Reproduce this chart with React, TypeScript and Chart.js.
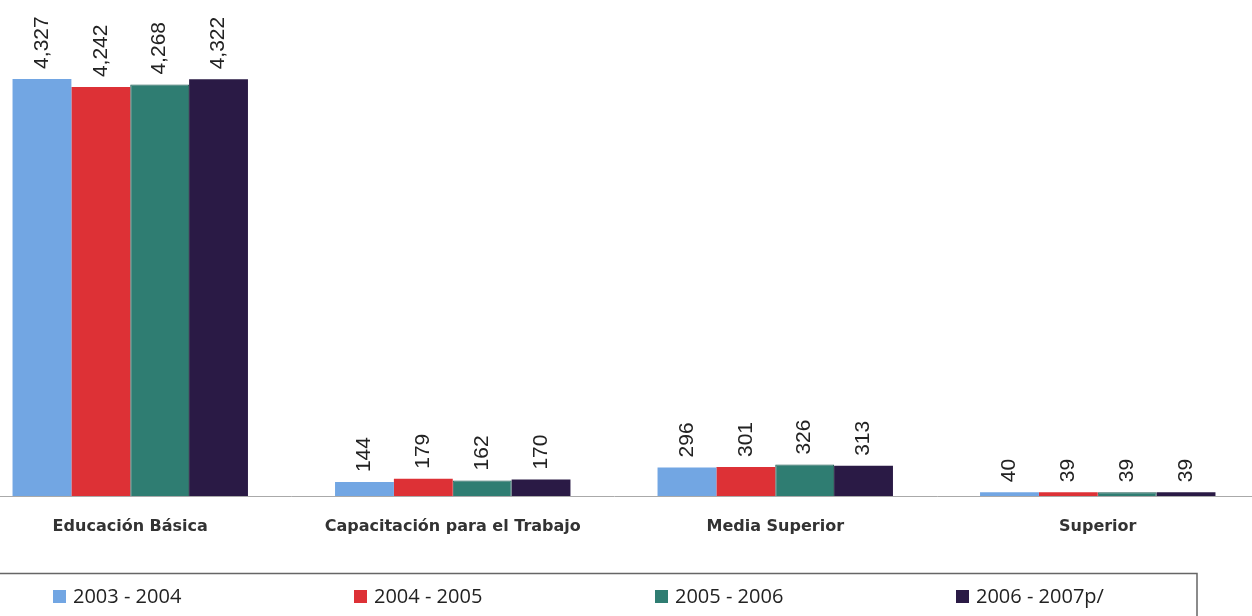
import React, { useEffect, useRef } from "react";
import { Chart, registerables } from "chart.js";

Chart.register(...registerables);

const categories = ["Educación Básica", "Capacitación para el Trabajo", "Media Superior", "Superior"];
const seriesLabels = ["2003 - 2004", "2004 - 2005", "2005 - 2006", "2006 - 2007p/"];
const s2003 = [4327, 144, 296, 40];
const s2004 = [4242, 179, 301, 39];
const s2005 = [4268, 162, 326, 39];
const s2006 = [4322, 170, 313, 39];
const seriesColors = ["#72a6e3", "#dd3136", "#2f7d72", "#2a1a45"];
const yMax = 5000;

const OFFSET_X = 40; // canvas shifted left by this many px

const valueLabels = {
  id: "valueLabels",
  afterDatasetsDraw(chart: any) {
    const ctx = chart.ctx;
    ctx.save();
    ctx.font = '21px "Liberation Sans", Arial, sans-serif';
    ctx.fillStyle = "#222";
    ctx.textAlign = "left";
    ctx.textBaseline = "middle";
    chart.data.datasets.forEach((ds: any, i: number) => {
      const meta = chart.getDatasetMeta(i);
      meta.data.forEach((bar: any, j: number) => {
        const v = ds.data[j];
        const txt = v.toLocaleString("en-US");
        ctx.save();
        ctx.translate(bar.x, bar.y - 10);
        ctx.rotate(-Math.PI / 2);
        ctx.fillText(txt, 0, 0);
        ctx.restore();
      });
    });
    ctx.restore();
  },
};

const boxLegend = {
  id: "boxLegend",
  afterDraw(chart: any) {
    const ctx = chart.ctx;
    ctx.save();
    ctx.strokeStyle = "#666";
    ctx.lineWidth = 1.5;
    ctx.beginPath();
    ctx.moveTo(0, 573.5);
    ctx.lineTo(1197 + OFFSET_X, 573.5);
    ctx.lineTo(1197 + OFFSET_X, 620);
    ctx.stroke();
    ctx.font = '20px "Open Sans", sans-serif';
    ctx.textBaseline = "middle";
    ctx.textAlign = "left";
    chart.data.datasets.forEach((ds: any, i: number) => {
      const x = 53 + OFFSET_X + i * 301;
      const y = 597;
      ctx.fillStyle = ds.backgroundColor;
      ctx.fillRect(x, y - 7, 13, 13);
      ctx.fillStyle = "#222";
      ctx.fillText(ds.label, x + 20, y);
    });
    ctx.restore();
  },
};

export default function App() {
  const ref = useRef<HTMLCanvasElement | null>(null);
  useEffect(() => {
    if (!ref.current) return;
    const data = [s2003, s2004, s2005, s2006];
    const chart = new Chart(ref.current, {
      type: "bar",
      data: {
        labels: categories,
        datasets: data.map((d, i) => ({
          label: seriesLabels[i],
          data: d,
          backgroundColor: seriesColors[i],
          borderColor: i === 2 ? "#1f5a52" : seriesColors[i],
          borderWidth: i === 2 ? 1 : 0,
          categoryPercentage: 0.73,
          barPercentage: 1.0,
        })),
      },
      options: {
        responsive: false,
        animation: false,
        devicePixelRatio: 1,
        layout: { padding: { left: 9, right: 1, top: 14, bottom: 0 } },
        plugins: { legend: { display: false }, tooltip: { enabled: false } },
        scales: {
          x: {
            grid: { display: false, drawTicks: false },
            border: { display: true, color: "#aaa", dash: [2, 2], width: 1 },
            ticks: {
              padding: 21,
              color: "#333",
              font: { family: '"DejaVu Sans", Verdana, sans-serif', weight: "bold", size: 16 },
              maxRotation: 0,
              autoSkip: false,
            },
            afterFit(scale: any) {
              scale.height = 120;
            },
          },
          y: {
            display: false,
            min: 0,
            max: yMax,
          },
        },
      },
      plugins: [valueLabels, boxLegend],
    });
    return () => chart.destroy();
  }, []);
  return (
    <div style={{ position: "fixed", left: 0, top: 0, width: 1252, height: 616, overflow: "hidden", background: "#fff" }}>
      <canvas ref={ref} width={1300} height={616} style={{ position: "absolute", left: -OFFSET_X, top: 0, width: 1300, height: 616 }} />
    </div>
  );
}
